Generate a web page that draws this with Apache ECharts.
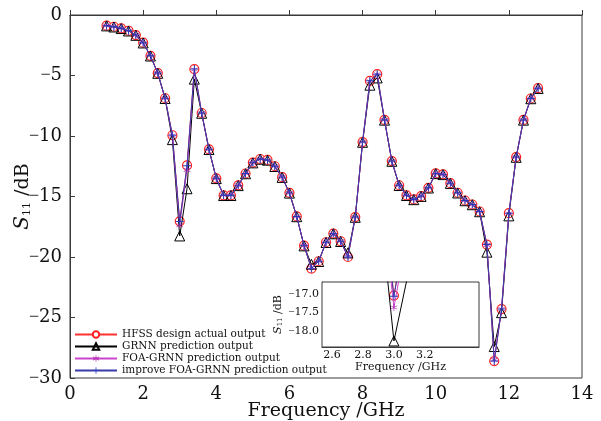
<!DOCTYPE html>
<html>
<head>
<meta charset="utf-8">
<script src="https://cdn.jsdelivr.net/npm/echarts@6/dist/echarts.min.js"></script>
<style>
  html, body { margin: 0; padding: 0; background: #fff; }
</style>
</head>
<body>
<div id="chart" style="width:601px;height:421px;"></div>
<script>
// frequency points (GHz)
const freq = [1.0, 1.2, 1.4, 1.6, 1.8, 2.0, 2.2, 2.4, 2.6, 2.8,
  3.0, 3.2, 3.4, 3.6, 3.8, 4.0, 4.2, 4.4, 4.6, 4.8,
  5.0, 5.2, 5.4, 5.6, 5.8, 6.0, 6.2, 6.4, 6.6, 6.8,
  7.0, 7.2, 7.4, 7.6, 7.8, 8.0, 8.2, 8.4, 8.6, 8.8,
  9.0, 9.2, 9.4, 9.6, 9.8, 10.0, 10.2, 10.4, 10.6, 10.8,
  11.0, 11.2, 11.4, 11.6, 11.8, 12.0, 12.2, 12.4, 12.6, 12.8];

// S11 (dB)
const hfss = [-0.88, -0.97, -1.1, -1.3, -1.66, -2.29, -3.37, -4.8, -6.88, -9.94,
  -17.05, -12.43, -4.47, -8.1, -11.1, -13.5, -14.9, -14.9, -14.08, -13.1,
  -12.2, -11.9, -11.98, -12.5, -13.4, -14.7, -16.65, -19.06, -20.96, -20.35,
  -18.78, -18.06, -18.7, -20.0, -16.7, -10.5, -5.44, -4.89, -8.67, -12.07,
  -14.07, -14.9, -15.24, -14.97, -14.28, -13.09, -13.17, -13.9, -14.69, -15.33,
  -15.66, -16.24, -18.97, -28.6, -24.3, -16.38, -11.74, -8.67, -6.9, -6.05];

const grnn = [-0.9, -0.99, -1.12, -1.32, -1.68, -2.31, -3.39, -4.82, -6.9, -10.3,
  -18.26, -14.36, -5.3, -8.12, -11.12, -13.52, -14.92, -14.92, -14.1, -13.12,
  -12.22, -11.92, -12.0, -12.52, -13.42, -14.72, -16.67, -19.08, -20.6, -20.37,
  -18.8, -18.08, -18.72, -19.66, -16.72, -10.52, -5.8, -5.2, -8.69, -12.09,
  -14.09, -14.92, -15.26, -14.99, -14.3, -13.11, -13.19, -13.92, -14.71, -15.35,
  -15.68, -16.26, -19.6, -27.4, -24.6, -16.6, -11.76, -8.69, -6.92, -6.07];

const foaGrnn = [-0.88, -0.97, -1.1, -1.3, -1.66, -2.29, -3.37, -4.8, -6.88, -9.96,
  -17.37, -12.8, -4.5, -8.1, -11.1, -13.5, -14.9, -14.9, -14.08, -13.1,
  -12.2, -11.9, -11.98, -12.5, -13.4, -14.7, -16.65, -19.06, -20.9, -20.35,
  -18.78, -18.06, -18.7, -19.95, -16.7, -10.5, -5.47, -4.9, -8.67, -12.07,
  -14.07, -14.9, -15.24, -14.97, -14.28, -13.09, -13.17, -13.9, -14.69, -15.33,
  -15.66, -16.24, -19.0, -28.5, -24.3, -16.4, -11.74, -8.67, -6.9, -6.05];

const improved = [-0.88, -0.97, -1.1, -1.3, -1.66, -2.29, -3.37, -4.8, -6.88, -9.94,
  -17.07, -12.45, -4.47, -8.1, -11.1, -13.5, -14.9, -14.9, -14.08, -13.1,
  -12.2, -11.9, -11.98, -12.5, -13.4, -14.7, -16.65, -19.06, -20.96, -20.35,
  -18.78, -18.06, -18.7, -20.0, -16.7, -10.5, -5.44, -4.89, -8.67, -12.07,
  -14.07, -14.9, -15.24, -14.97, -14.28, -13.09, -13.17, -13.9, -14.69, -15.33,
  -15.66, -16.24, -18.97, -28.6, -24.3, -16.38, -11.74, -8.67, -6.9, -6.05];

const seriesNames = ['HFSS design actual output', 'GRNN prediction output',
  'FOA-GRNN prediction output', 'improve FOA-GRNN prediction output'];

const insetXTicks = [2.6, 2.8, 3.0, 3.2];
const insetYTicks = [-17.0, -17.5, -18.0];

const FONT = 'DejaVu Serif';
const AXIS_COLOR = '#3a3a3a';
const starPath = 'path://M4.5,0L5.5,0L5.5,10L4.5,10Z M0.92,2.07L9.58,7.07L9.08,7.93L0.42,2.93Z M0.42,7.07L9.08,2.07L9.58,2.93L0.92,7.93Z';
const plusPath = 'path://M4.4,0L5.6,0L5.6,10L4.4,10Z M0,4.4L10,4.4L10,5.6L0,5.6Z';

// narrower minus sign, drawn in a rich-text token
const signed = s => s.charAt(0) === '-' ? '{m|\u2212}' + s.slice(1) : s;

function pairs(ys) {
  return freq.map((f, i) => [f, ys[i]]);
}

// one set of four series per grid; the inset set sits above the inset's white background
function makeSeries(axisIdx, zBase) {
  return [
    {
      name: seriesNames[0], type: 'line', data: pairs(hfss),
      xAxisIndex: axisIdx, yAxisIndex: axisIdx,
      symbol: 'circle', symbolSize: 9,
      lineStyle: { color: '#ff3030', width: 1 },
      itemStyle: { color: '#fff', borderColor: '#ff2020', borderWidth: 1.2 },
      z: zBase
    },
    {
      name: seriesNames[1], type: 'line', data: pairs(grnn),
      xAxisIndex: axisIdx, yAxisIndex: axisIdx,
      symbol: 'triangle', symbolSize: 10,
      lineStyle: { color: '#000', width: 1 },
      itemStyle: { color: 'rgba(255,255,255,0)', borderColor: '#000', borderWidth: 1 },
      z: zBase + 1
    },
    {
      name: seriesNames[2], type: 'line', data: pairs(foaGrnn),
      xAxisIndex: axisIdx, yAxisIndex: axisIdx,
      symbol: starPath, symbolSize: 7,
      lineStyle: { color: '#cc44cc', width: 1 },
      itemStyle: { color: '#b030b0' },
      z: zBase + 2
    },
    {
      name: seriesNames[3], type: 'line', data: pairs(improved),
      xAxisIndex: axisIdx, yAxisIndex: axisIdx,
      symbol: plusPath, symbolSize: 8,
      lineStyle: { color: '#3a3aaa', width: 1 },
      itemStyle: { color: '#2a3ab8' },
      z: zBase + 3
    }
  ];
}

const chart = echarts.init(document.getElementById('chart'));

const option = {
  backgroundColor: '#fff',
  animation: false,
  textStyle: { fontFamily: FONT },
  grid: [
    { left: 70, top: 15, right: 19, bottom: 43, outerBoundsMode: 'none',
      show: true, borderColor: AXIS_COLOR, borderWidth: 1 },
    { left: 322, top: 282, right: 122, bottom: 74, outerBoundsMode: 'none',
      show: true, borderColor: AXIS_COLOR, borderWidth: 1, backgroundColor: '#fff', z: 10 }
  ],
  legend: {
    orient: 'vertical',
    left: 69, top: 324,
    itemWidth: 42, itemHeight: 8, itemGap: 1,
    textStyle: { fontFamily: FONT, fontSize: 10.5, color: '#111', lineHeight: 9 },
    data: seriesNames
  },
  xAxis: [
    {
      gridIndex: 0, type: 'value', min: 0, max: 14, interval: 2,
      name: 'Frequency /GHz', nameLocation: 'middle', nameGap: 24, nameMoveOverlap: false,
      nameTextStyle: { fontFamily: FONT, fontSize: 19, color: '#111' },
      axisLine: { lineStyle: { color: AXIS_COLOR } },
      axisTick: { inside: true, length: 5, lineStyle: { color: AXIS_COLOR } },
      axisLabel: { fontFamily: FONT, fontSize: 18, color: '#111', margin: 7 },
      splitLine: { show: false }
    },
    {
      gridIndex: 1, type: 'value', min: 2.535, max: 3.55,
      name: 'Frequency /GHz', nameLocation: 'middle', nameGap: 15, nameMoveOverlap: false,
      nameTextStyle: { fontFamily: FONT, fontSize: 11, color: '#111' },
      axisLine: { lineStyle: { color: AXIS_COLOR } },
      axisTick: { inside: true, length: 3, customValues: insetXTicks, lineStyle: { color: AXIS_COLOR } },
      axisLabel: { fontFamily: FONT, fontSize: 11, color: '#111', margin: 3, customValues: insetXTicks,
        formatter: v => v.toFixed(1) },
      splitLine: { show: false }
    }
  ],
  yAxis: [
    {
      gridIndex: 0, type: 'value', min: -30, max: 0, interval: 5,
      name: '{i|S}{s|11}{n| /dB}', nameLocation: 'middle', nameGap: 37, nameRotate: 90,
      nameMoveOverlap: false,
      nameTextStyle: {
        color: '#111',
        rich: {
          i: { fontFamily: FONT, fontSize: 20, fontStyle: 'italic', color: '#111' },
          s: { fontFamily: FONT, fontSize: 11, color: '#111', padding: [9, 0, 0, 0] },
          n: { fontFamily: FONT, fontSize: 19, color: '#111' }
        }
      },
      axisLine: { show: true, lineStyle: { color: AXIS_COLOR } },
      axisTick: { show: true, inside: true, length: 5, lineStyle: { color: AXIS_COLOR } },
      axisLabel: {
        fontFamily: FONT, fontSize: 18, color: '#111', margin: 8,
        formatter: v => signed(String(v)),
        rich: { m: { fontFamily: 'Liberation Serif', fontSize: 18, color: '#111' } }
      },
      splitLine: { show: false }
    },
    {
      gridIndex: 1, type: 'value', min: -18.42, max: -16.69,
      name: '{i|S}{s|11}{n| /dB}', nameLocation: 'middle', nameGap: 38, nameRotate: 90,
      nameMoveOverlap: false,
      nameTextStyle: {
        color: '#111',
        rich: {
          i: { fontFamily: FONT, fontSize: 11, fontStyle: 'italic', color: '#111' },
          s: { fontFamily: FONT, fontSize: 7, color: '#111', padding: [5, 0, 0, 0] },
          n: { fontFamily: FONT, fontSize: 11, color: '#111' }
        }
      },
      axisLine: { show: true, lineStyle: { color: AXIS_COLOR } },
      axisTick: { show: true, inside: true, length: 3, customValues: insetYTicks, lineStyle: { color: AXIS_COLOR } },
      axisLabel: {
        fontFamily: FONT, fontSize: 11, color: '#111', margin: 3, customValues: insetYTicks,
        formatter: v => signed(v.toFixed(1)),
        rich: { m: { fontFamily: 'Liberation Serif', fontSize: 11, color: '#111' } }
      },
      splitLine: { show: false }
    }
  ],
  series: makeSeries(0, 2).concat(makeSeries(1, 12))
};

chart.setOption(option);
</script>
</body>
</html>
